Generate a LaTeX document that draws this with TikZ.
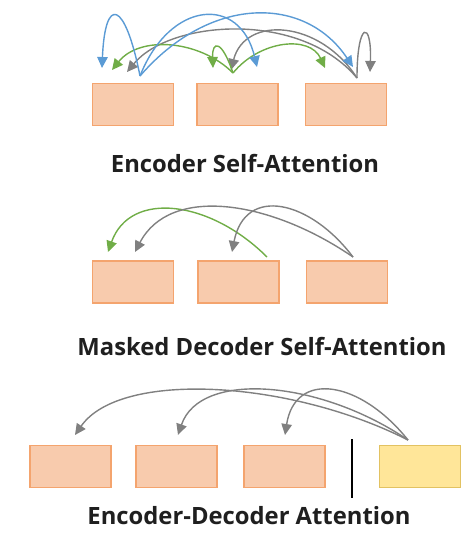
\documentclass[tikz,border=0pt]{standalone}
\usepackage{fontspec}
\setmainfont{Open Sans}
\usepackage{tikz}
\usetikzlibrary{calc,arrows.meta}
\definecolor{boxfill}{HTML}{F8CBAD}
\definecolor{boxline}{HTML}{F4A46E}
\definecolor{qfill}{HTML}{FFE699}
\definecolor{qline}{HTML}{E2C262}
\definecolor{ablue}{HTML}{5B9BD5}
\definecolor{agreen}{HTML}{70AD47}
\definecolor{agray}{HTML}{808080}

\begin{document}
\begin{tikzpicture}[x=1pt,y=-1pt,
	word/.style={draw=boxline,fill=boxfill,line width=1.2pt,minimum width=81pt,minimum height=42pt,inner sep=0pt},
	query/.style={word,draw=qline,fill=qfill},
	att/.style={line width=1.4pt,-{Triangle[length=11pt,width=10.5pt]}},
	caption/.style={font=\bfseries\fontsize{23.8}{28}\selectfont,text=black!88}]
	\useasboundingbox (0,0) rectangle (472,535);

	%encoder self-attention
	\node[word] (e1) at (133,104.5) {};
	\node[word] (e2) at (237.5,104.5) {};
	\node[word] (e3) at (346,104.5) {};
	\node[caption] (t1) at (245,164) {Encoder Self-Attention};
	\coordinate (eb) at (140,76);		%blue source
	\coordinate (eg) at (233,73);		%green source
	\coordinate (ek) at (357,78);		%gray source
	\coordinate (eb1) at (102,68);
	\coordinate (eb2) at (257,67);
	\coordinate (eb3) at (353,67);
	\coordinate (eg1) at (112,70);
	\coordinate (eg2) at (213,68);
	\coordinate (eg3) at (325,68);
	\coordinate (ek1) at (127,72);
	\coordinate (ek2) at (231,70);
	\coordinate (ek3) at (370,72);
		\draw[att,agray] (ek) .. controls (300,10) and (170,20) .. (ek1);	%3 -> 1
		\draw[att,agray] (ek) .. controls (320,20) and (245,15) .. (ek2);	%3 -> 2
		\draw[att,agray] (ek) .. controls (357,20) and (372,20) .. (ek3);	%3 -> 3
		%
		\draw[att,agreen] (eg) .. controls (200,40) and (140,35) .. (eg1);	%2 -> 1
		\draw[att,agreen] (eg) .. controls (222,40) and (212,40) .. (eg2);	%2 -> 2
		\draw[att,agreen] (eg) .. controls (260,40) and (310,35) .. (eg3);	%2 -> 3
		%
		\draw[att,ablue] (eb) .. controls (125,0) and (105,-5) .. (eb1);	%1 -> 1
		\draw[att,ablue] (eb) .. controls (170,0) and (240,-5) .. (eb2);	%1 -> 2
		\draw[att,ablue] (eb) .. controls (210,-5) and (305,-5) .. (eb3);	%1 -> 3

	%masked decoder self-attention
	\node[word] (d1) at (133,282) {};
	\node[word] (d2) at (238.5,282) {};
	\node[word] (d3) at (347,282) {};
	\node[caption] (t2) at (262,347) {Masked Decoder Self-Attention};
	\coordinate (mg) at (267,257);
	\coordinate (mk) at (353,257);
	\coordinate (mg1) at (108,252);
	\coordinate (mk1) at (135,252);
	\coordinate (mk2) at (232,252);
		\draw[att,agreen] (mg) .. controls (210,200) and (130,190) .. (mg1);
		\draw[att,agray] (mk) .. controls (270,200) and (170,185) .. (mk1);
		\draw[att,agray] (mk) .. controls (310,200) and (245,185) .. (mk2);

	%encoder-decoder attention
	\node[word] (c1) at (70.5,466.5) {};
	\node[word] (c2) at (176.5,466.5) {};
	\node[word] (c3) at (284.5,466.5) {};
	\node[query] (q) at (420,466.5) {};
	\node[caption] (t3) at (249,516) {Encoder-Decoder Attention};
	\coordinate (sepa) at (352,439);
	\coordinate (sepb) at (352,498);
	\draw[line width=1.4pt] (sepa) -- (sepb);
	\coordinate (ck) at (408,440);
	\coordinate (ck1) at (75,435);
	\coordinate (ck2) at (178,435);
	\coordinate (ck3) at (285,435);
		\draw[att,agray] (ck) .. controls (290,380) and (120,370) .. (ck1);
		\draw[att,agray] (ck) .. controls (320,380) and (200,370) .. (ck2);
		\draw[att,agray] (ck) .. controls (360,380) and (295,370) .. (ck3);
\end{tikzpicture}
\end{document}
